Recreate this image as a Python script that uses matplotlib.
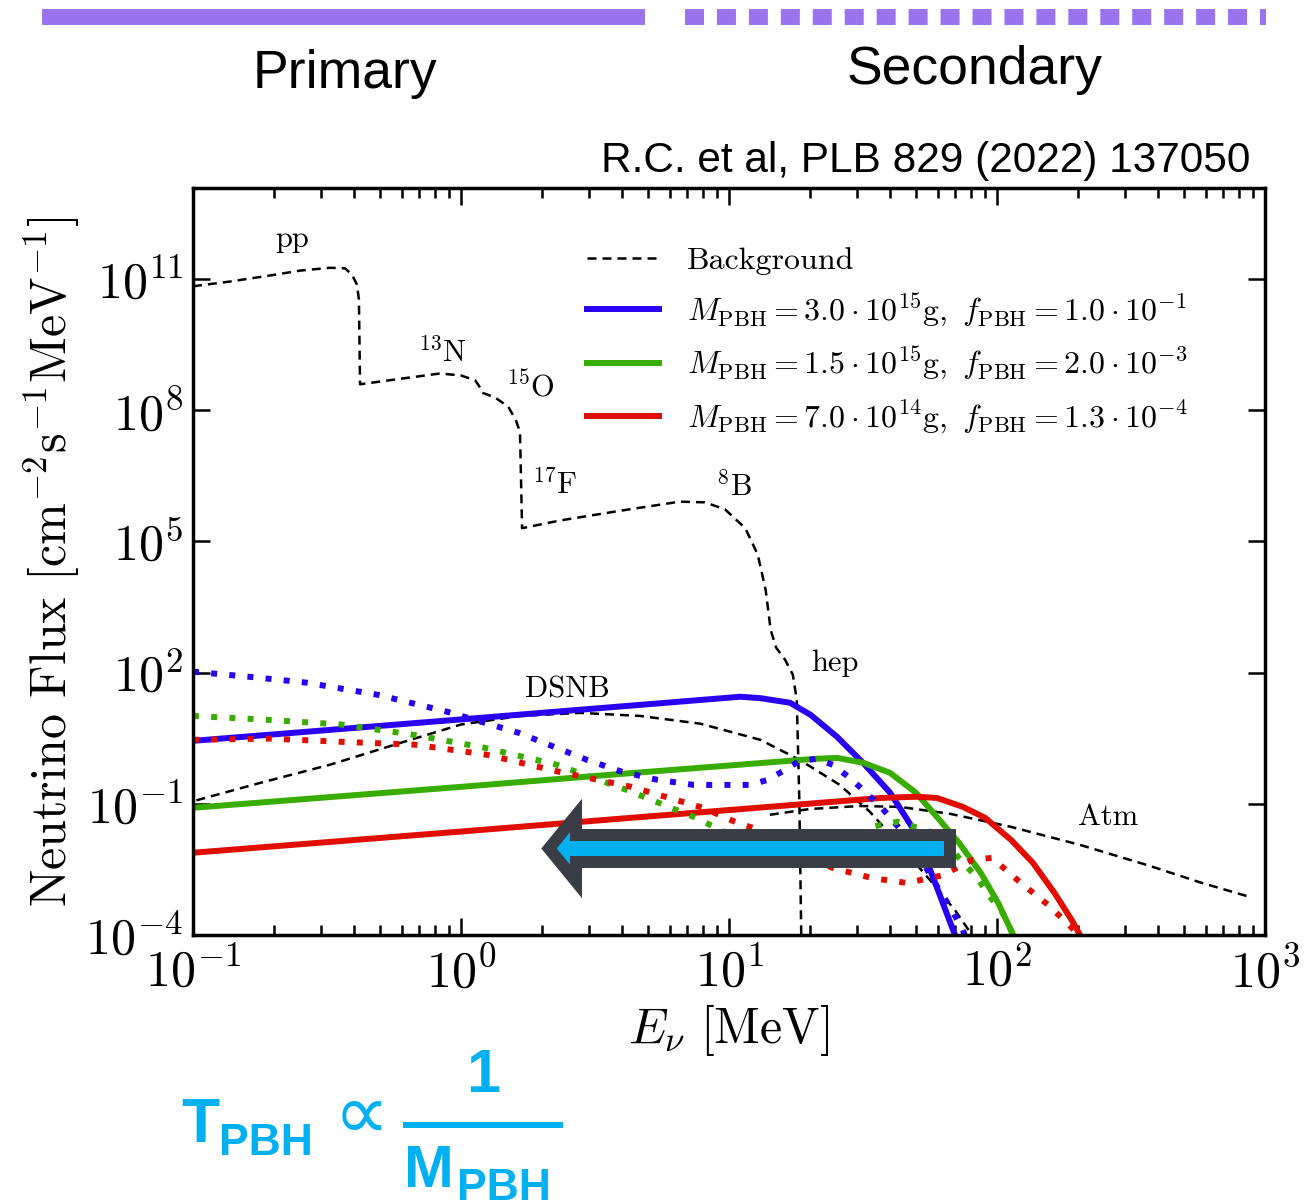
import matplotlib
matplotlib.use('Agg')
import matplotlib.pyplot as plt
from matplotlib import transforms as mtransforms
from matplotlib.patches import FancyArrow
from matplotlib.lines import Line2D
from matplotlib.ticker import FixedLocator, NullLocator, LogLocator, FixedFormatter, NullFormatter

plt.rcParams['mathtext.fontset'] = 'cm'
plt.rcParams['font.family'] = 'serif'
plt.rcParams['font.serif'] = ['cmr10']
plt.rcParams['axes.unicode_minus'] = False

# ---- data (E in MeV, flux in cm^-2 s^-1 MeV^-1) ----
solar_E = [0.1, 0.137, 0.194, 0.251, 0.324, 0.369, 0.392, 0.409, 0.416, 0.42,
           0.592, 0.836, 1.0, 1.13, 1.19, 1.20, 1.34, 1.50, 1.60, 1.66, 1.69,
           2.34, 3.92, 6.56, 8.13, 9.66, 11.5, 12.8, 13.7, 14.3, 15.0, 16.2,
           17.3, 17.9, 18.3, 18.6, 18.8]
solar_F = [6.8e10, 8.7e10, 1.2e11, 1.55e11, 1.8e11, 1.75e11, 1.25e11, 7.4e10, 3.4e10, 3.9e8,
           5.2e8, 6.9e8, 6.2e8, 4.8e8, 3.0e8, 2.5e8, 1.95e8, 1.2e8, 6.0e7, 3.2e7, 2.0e5,
           3.0e5, 5.0e5, 8.1e5, 7.8e5, 5.4e5, 2.0e5, 5.0e4, 7.8e3, 9.5e2, 3.7e2, 1.95e2,
           9.0e1, 2.4e1, 1.2e-1, 1.0e-4, 1.0e-6]

dsnb_E = [0.103, 0.178, 0.324, 0.592, 1.0, 1.66, 2.78, 4.66, 7.80, 13.1, 18.4,
          25.9, 33.6, 43.4, 56.2, 69.7, 80.7, 86.5]
dsnb_F = [0.12, 0.30, 0.78, 2.45, 6.5, 10.2, 12.0, 10.2, 6.8, 2.9, 1.0,
          0.27, 0.065, 0.0115, 1.8e-3, 3.7e-4, 1.0e-4, 4.6e-5]

atm_E = [14.2, 20.0, 30.8, 43.4, 66.8, 112, 204, 372, 572, 879]
atm_F = [0.056, 0.076, 0.089, 0.085, 0.059, 0.030, 0.0115, 3.8e-3, 1.6e-3, 7.4e-4]

blue_E = [0.1, 1.0, 11.0, 13.1, 16.9, 20.2, 25.3, 31.6, 39.9, 49.9, 57.7, 69.7, 74.0]
blue_F = [2.75, 8.5, 28.0, 26.0, 20.4, 10.7, 3.4, 0.87, 0.18, 0.021, 2.1e-3, 1.0e-4, 3.5e-5]

blue_sec_E = [0.1, 0.166, 0.264, 0.490, 0.893, 1.64, 2.95, 3.99, 5.38, 7.40, 12.0,
              14.0, 16.2, 18.1, 21.1, 24.4, 27.8, 31.6, 36.9, 42.7, 49.9, 57.7,
              66.8, 74.6, 78.0]
blue_sec_F = [105, 79, 59, 31, 12.6, 4.2, 1.01, 0.54, 0.355, 0.27, 0.27,
              0.355, 0.60, 0.91, 1.07, 0.78, 0.42, 0.21, 0.085, 0.030, 8.9e-3, 1.8e-3,
              4.4e-4, 1.3e-4, 5.9e-5]

green_E = [0.1, 1.0, 3.92, 21.1, 25.3, 31.6, 39.9, 49.9, 59.7, 72.1, 87.1, 101, 115, 120]
green_F = [0.081, 0.244, 0.48, 1.07, 1.12, 0.87, 0.51, 0.178, 0.050, 0.0129, 2.6e-3,
           5.4e-4, 1.0e-4, 4.6e-5]

green_sec_E = [0.1, 0.191, 0.357, 0.662, 1.23, 2.28, 4.13, 7.40, 10.1, 14.2, 20.0,
               27.1, 34.2, 42.7, 56.2, 66.8, 74.6, 84.1, 91.8, 105, 115, 120]
green_sec_F = [10.2, 8.3, 6.5, 3.8, 1.9, 0.78, 0.21, 0.050, 0.0195, 8.9e-3, 6.8e-3,
               0.0115, 0.030, 0.039, 0.023, 0.0102, 4.5e-3, 2.1e-3, 9.1e-4, 3.2e-4,
               1.0e-4, 4.6e-5]

red_E = [0.1, 1.0, 3.92, 36.9, 49.9, 59.7, 74.6, 90.2, 113, 136, 164, 190, 204, 213]
red_F = [7.6e-3, 0.0232, 0.0456, 0.136, 0.145, 0.136, 0.085, 0.048, 0.0148, 4.5e-3,
         9.1e-4, 2.2e-4, 1.0e-4, 4.6e-5]

red_sec_E = [0.1, 0.191, 0.363, 0.673, 1.25, 2.32, 4.31, 8.0, 10.5, 12.3, 16.9,
             24.4, 34.2, 46.1, 62.4, 80.7, 95.8, 122, 155, 194, 207]
red_sec_F = [2.9, 3.1, 2.6, 2.25, 1.32, 0.54, 0.245, 0.081, 0.039, 0.028, 9.8e-3,
             3.4e-3, 2.0e-3, 1.55e-3, 2.3e-3, 5.2e-3, 5.8e-3, 1.6e-3, 4.9e-4, 1.3e-4, 4.6e-5]

pbh_labels = [r'$M_{\rm PBH} = 3.0\cdot 10^{15}{\rm g},\ f_{\rm PBH} = 1.0\cdot 10^{-1}$',
              r'$M_{\rm PBH} = 1.5\cdot 10^{15}{\rm g},\ f_{\rm PBH} = 2.0\cdot 10^{-3}$',
              r'$M_{\rm PBH} = 7.0\cdot 10^{14}{\rm g},\ f_{\rm PBH} = 1.3\cdot 10^{-4}$']

source_names = ['pp', r'$^{13}$N', r'$^{15}$O', r'$^{17}$F', r'$^{8}$B', 'hep', 'DSNB', 'Atm']
source_E = [0.234, 0.85, 1.81, 2.24, 10.4, 24.9, 2.49, 259]
source_F = [8e11, 2.1e9, 3.5e8, 2.0e6, 1.8e6, 166, 40, 0.048]

xtick_vals = [0.1, 1, 10, 100, 1000]
xtick_labels = [r'$10^{-1}$', r'$10^{0}$', r'$10^{1}$', r'$10^{2}$', r'$10^{3}$']
ytick_vals = [1e-4, 1e-1, 1e2, 1e5, 1e8, 1e11]
ytick_labels = [r'$10^{-4}$', r'$10^{-1}$', r'$10^{2}$', r'$10^{5}$', r'$10^{8}$', r'$10^{11}$']

BLUE = '#2a00f2'
GREEN = '#38ad00'
RED = '#e00d00'
PURPLE = '#9b73f0'
CYAN = '#00b0f0'
DARK = '#3a3c46'

W, H = 1304, 1201
fig = plt.figure(figsize=(W / 100, H / 100), dpi=100)
# image-pixel transform (y downward)
pxT = mtransforms.Affine2D().scale(1 / 100, -1 / 100).translate(0, H / 100) + fig.dpi_scale_trans

ax = fig.add_axes([193 / W, 1 - 935 / H, 1072 / W, 747 / H])
ax.set_xscale('log')
ax.set_yscale('log')
ax.set_xlim(0.1, 1000)
ax.set_ylim(1e-4, 1.2e13)

dash_bg = (0, (3.6, 2.4))
dots = (0, (1.0, 2.05))
lw = 4.3

ax.plot(solar_E, solar_F, color='black', lw=1.8, ls=dash_bg, label='Background')
ax.plot(dsnb_E, dsnb_F, color='black', lw=1.8, ls=dash_bg)
ax.plot(atm_E, atm_F, color='black', lw=1.8, ls=dash_bg)

ax.plot(blue_E, blue_F, color=BLUE, lw=lw, label=pbh_labels[0])
ax.plot(green_E, green_F, color=GREEN, lw=lw, label=pbh_labels[1])
ax.plot(red_E, red_F, color=RED, lw=lw, label=pbh_labels[2])
ax.plot(blue_sec_E, blue_sec_F, color=BLUE, lw=lw, ls=dots, dash_capstyle='butt')
ax.plot(green_sec_E, green_sec_F, color=GREEN, lw=lw, ls=dots, dash_capstyle='butt')
ax.plot(red_sec_E, red_sec_F, color=RED, lw=lw, ls=dots, dash_capstyle='butt')

for name, e, f in zip(source_names, source_E, source_F):
    ax.text(e, f, name, fontsize=22, ha='center', va='center')

ax.xaxis.set_major_locator(FixedLocator(xtick_vals))
ax.xaxis.set_major_formatter(FixedFormatter(xtick_labels))
ax.xaxis.set_minor_locator(LogLocator(base=10, subs=range(2, 10)))
ax.xaxis.set_minor_formatter(NullFormatter())
ax.yaxis.set_major_locator(FixedLocator(ytick_vals))
ax.yaxis.set_major_formatter(FixedFormatter(ytick_labels))
ax.yaxis.set_minor_locator(NullLocator())

ax.tick_params(which='both', direction='in', top=True, right=True, width=1.8)
ax.tick_params(which='major', length=12, labelsize=36)
ax.tick_params(which='minor', length=7.5)
ax.tick_params(axis='x', which='major', pad=9)
ax.tick_params(axis='y', which='major', pad=7)
for sp in ax.spines.values():
    sp.set_linewidth(2.5)

leg = ax.legend(loc='upper left', bbox_to_anchor=(0.368, 0.921), frameon=False,
                fontsize=23, handlelength=2.25, handletextpad=0.85, labelspacing=0.5,
                borderpad=0, borderaxespad=0)

fig.text(52, 562, r'Neutrino Flux $[\mathrm{cm}^{-2}\mathrm{s}^{-1}\mathrm{MeV}^{-1}]$',
         transform=pxT, rotation=90, ha='center', va='center', fontsize=36)
fig.text(729, 1030, r'$E_\nu\ [\mathrm{MeV}]$', transform=pxT, ha='center', va='center',
         fontsize=36)

# header
fig.add_artist(Line2D([42, 645], [17, 17], transform=pxT, color=PURPLE, lw=11.5,
                      solid_capstyle='butt'))
fig.add_artist(Line2D([685, 1266], [17, 17], transform=pxT, color=PURPLE, lw=11.5,
                      ls=(0, (1.19, 0.81)), dash_capstyle='butt'))
fig.text(345, 88, 'Primary', transform=pxT, ha='center', va='baseline', fontsize=38.5,
         family='Liberation Sans')
fig.text(975, 84, 'Secondary', transform=pxT, ha='center', va='baseline', fontsize=38.5,
         family='Liberation Sans')
fig.text(1250, 172, 'R.C. et al, PLB 829 (2022) 137050', transform=pxT, ha='right',
         va='baseline', fontsize=30.5, family='Liberation Sans')

# arrow: lower temperature direction
arrow = FancyArrow(950, 848.5, 549 - 950, 0, width=27, head_width=66, head_length=27,
                   length_includes_head=True, transform=pxT, facecolor=CYAN,
                   edgecolor=DARK, linewidth=8.6, joinstyle='miter', zorder=5)
fig.add_artist(arrow)

# T_PBH ∝ 1/M_PBH
bold = dict(transform=pxT, color=CYAN, family='Liberation Sans', weight='bold', va='baseline')
fig.text(181, 1142, 'T', fontsize=45, **bold)
fig.text(219, 1155, 'PBH', fontsize=32, **bold)
fig.text(361, 1139, '\u221d', fontsize=56, ha='center', transform=pxT, color=CYAN,
         family='DejaVu Sans', va='baseline')
fig.text(483, 1092, '1', fontsize=44, ha='center', **bold)
fig.add_artist(Line2D([403, 563], [1124.5, 1124.5], transform=pxT, color=CYAN, lw=4.3,
                      solid_capstyle='butt'))
fig.text(404, 1187, 'M', fontsize=43, **bold)
fig.text(457, 1200, 'PBH', fontsize=32, **bold)

fig.savefig('out.png', dpi=100)
